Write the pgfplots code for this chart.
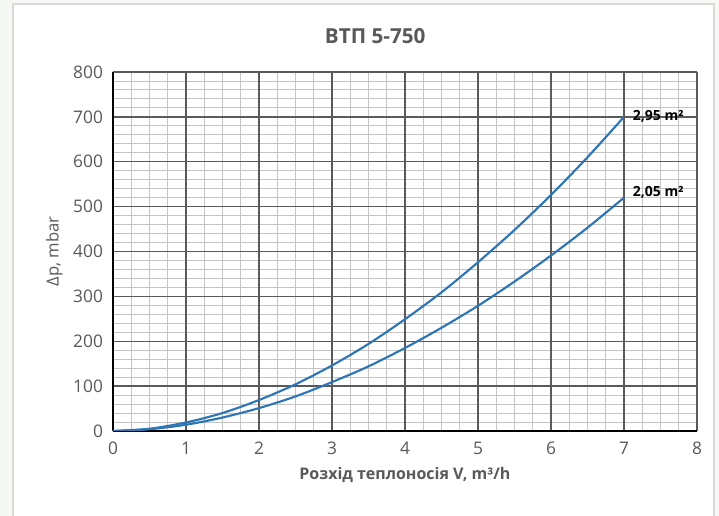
\documentclass[border=0pt]{standalone}
\usepackage{fontspec}
\setmainfont{Open Sans}
\usepackage{pgfplots}
\pgfplotsset{compat=1.18}

\definecolor{txt}{HTML}{595959}
\definecolor{curve}{HTML}{2E75B6}
\definecolor{majgrid}{HTML}{5A5A5A}
\definecolor{mingrid}{HTML}{C4C4C4}
\definecolor{pagebg}{HTML}{F6F8F3}
\definecolor{framecol}{HTML}{D9D9D9}

% V in m3/h, dp in mbar
\pgfplotstableread{
v    big   small
0    0     0
0.5  5     4
1    19    14
1.5  40    30
2    69    51
2.5  104   77
3    146   109
3.5  194   144
4    249   185
4.5  309   230
5    376   279
5.5  448   333
6    526   391
6.5  610   453
7    700   520
}\pressure

\begin{document}
\begin{tikzpicture}
% 1 px of the reference = 0.75pt; axis origin at px (113,431)
\useasboundingbox (-84.75pt,-63.75pt) rectangle (454.5pt,323.25pt);
\fill[pagebg] (-84.75pt,-63.75pt) rectangle (454.5pt,323.25pt);
\filldraw[fill=white, draw=framecol, line width=0.8pt] (-75pt,-80pt) rectangle (450.75pt,320.25pt);

\pgfplotsset{
    grid frame/.style={
        at={(0,0)}, anchor=south west,
        scale only axis,
        width=438pt, height=269.25pt,
        xmin=0, xmax=8, ymin=0, ymax=800,
        xtick distance=1, ytick distance=100,
        minor x tick num=3, minor y tick num=4,
        major tick length=0pt, minor tick length=0pt,
    },
}

% minor grid underneath
\begin{axis}[grid frame, grid=minor,
    axis line style={draw=none},
    xticklabels={}, yticklabels={},
    minor grid style={draw=mingrid, line width=0.7pt}]
\addplot[draw=none] coordinates {(0,0)};
\end{axis}

\begin{axis}[
    grid frame,
    grid=major,
    major grid style={draw=majgrid, line width=1.1pt},
    axis x line*=bottom, axis y line*=left,
    axis line style={black, line width=1.4pt, -},
    ticklabel style={font=\fontsize{13}{15}\selectfont, text=txt},
    /pgf/number format/assume math mode=true,
    xticklabel style={yshift=-5pt},
    yticklabel style={xshift=-4pt},
    title={\textbf{ВТП 5-750}},
    title style={font=\fontsize{15.5}{18}\selectfont, text=txt, at={(axis description cs:0.449,1)}, yshift=12pt},
    xlabel={\textbf{Розхід теплоносія V, m³/h}},
    xlabel style={font=\fontsize{12}{14}\selectfont, text=txt, yshift=-2pt},
    ylabel={Δp, mbar},
    ylabel style={font=\fontsize{12.5}{14}\selectfont, text=txt, yshift=1pt},
]
\addplot[curve, line width=1.6pt, smooth] table[x=v, y=big] {\pressure};
\addplot[curve, line width=1.6pt, smooth] table[x=v, y=small] {\pressure};
\node[anchor=west, font=\fontsize{10.5}{12}\selectfont\bfseries, inner sep=1pt] at (axis cs:7.1,702) {2,95 m²};
\node[anchor=west, font=\fontsize{10.5}{12}\selectfont\bfseries, inner sep=1pt] at (axis cs:7.1,532) {2,05 m²};
\end{axis}
\end{tikzpicture}
\end{document}
